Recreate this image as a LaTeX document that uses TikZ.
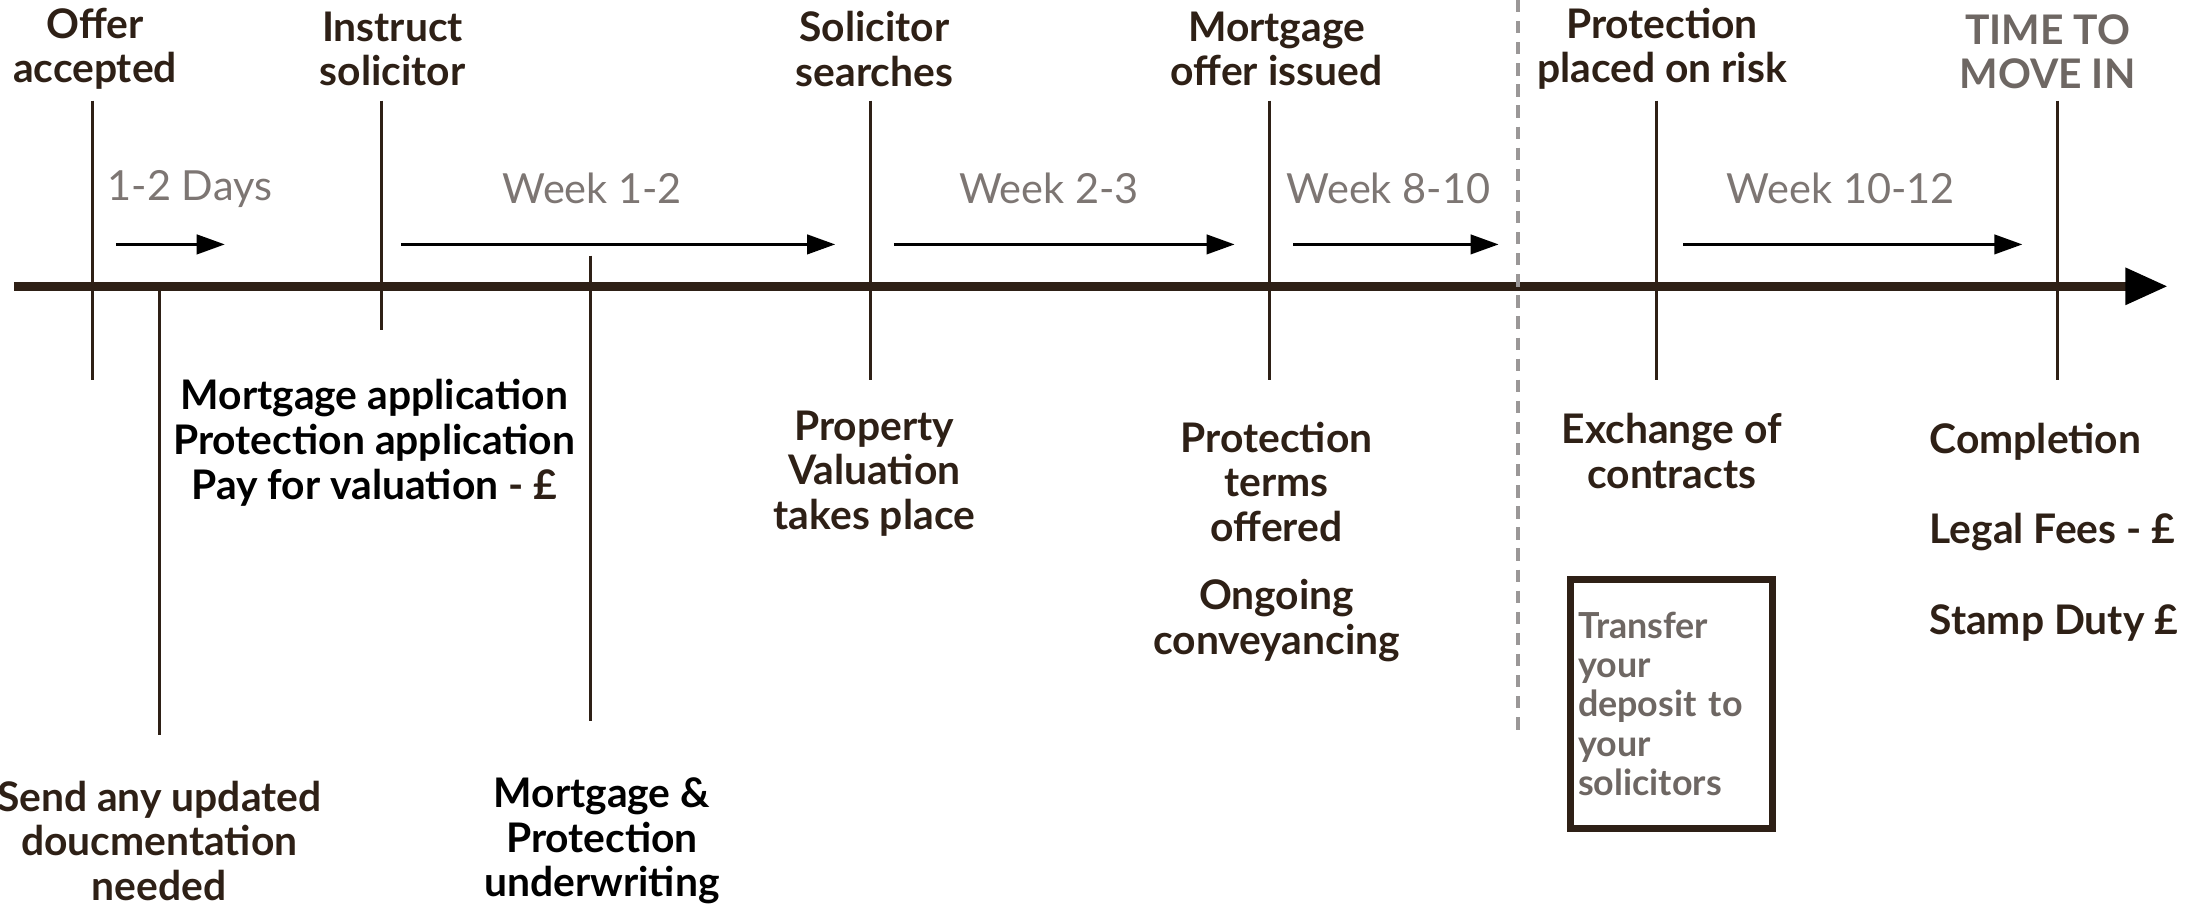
\documentclass[tikz,border=0pt]{standalone}
\usepackage{fontspec}
\setmainfont{Lato}
\usetikzlibrary{arrows.meta}
\definecolor{darkbrown}{HTML}{2E2016}
\definecolor{softgrey}{HTML}{6E6763}
\definecolor{lightgrey}{HTML}{7D7673}
\definecolor{dashgrey}{HTML}{9A9797}

\begin{document}
\begin{tikzpicture}[x=0.013967cm,y=-0.013967cm,
	every node/.style={inner sep=0pt,align=center,text=darkbrown,font=\bfseries\fontsize{11.6}{12.7}\selectfont},
	week/.style={text=lightgrey,font=\fontsize{11.8}{14}\selectfont},
	tick/.style={draw=darkbrown,line width=0.8pt},
	span/.style={draw=black,line width=0.9pt,-{Triangle[length=8pt,width=5.5pt]}},
	axis/.style={draw=darkbrown,line width=2.4pt,-{Triangle[length=12pt,width=10pt,color=black]}},
	depositbox/.style={draw=darkbrown,line width=2pt,text width=1.86cm,inner xsep=0.08cm,
		minimum height=2.49cm,align=left,text=softgrey,font=\bfseries\fontsize{10.2}{11.1}\selectfont}]
	\useasboundingbox (0,0) rectangle (1568,649);
	% time line
	\coordinate (axis-s) at (10,205);
	\coordinate (axis-e) at (1552,205);
	\draw [axis] (axis-s) -- (axis-e);
	% events above the line
	\node (offer) at (68,35) {Offer\\accepted};
	\node (instruct) at (281,35) {Instruct\\solicitor};
	\node (searches) at (626,35) {Solicitor\\searches};
	\node (issued) at (914,35) {Mortgage\\offer issued};
	\node (risk) at (1190,35) {Protection\\placed on risk};
	\node [text=softgrey] (movein) at (1466,37) {TIME TO\\MOVE IN};
	\foreach \n/\x/\b in {offer/66/272, instruct/273/236, searches/623/272,
		issued/909/272, risk/1186/272, movein/1473/272}{
		\coordinate (\n-a) at (\x,72);
		\coordinate (\n-b) at (\x,\b);
		\draw [tick] (\n-a) -- (\n-b);
	}
	% durations
	\node [week] (days) at (136,135) {1-2 Days};
	\node [week] (week1) at (424,135) {Week 1-2};
	\node [week] (week2) at (751,135) {Week 2-3};
	\node [week] (week8) at (994,135) {Week 8-10};
	\node [week] (week10) at (1318,135) {Week 10-12};
	\foreach \i/\a/\b in {1/83/161, 2/287/598, 3/640/884, 4/926/1073, 5/1205/1448}{
		\coordinate (span\i-s) at (\a,175);
		\coordinate (span\i-e) at (\b,175);
		\draw [span] (span\i-s) -- (span\i-e);
	}
	% events below the line
	\node [text=black] (apps) at (268,317) {Mortgage application\\Protection application\\Pay for valuation {\color{darkbrown}- £}};
	\node (docs) at (114,602) {Send any updated\\doucmentation\\needed};
	\node [text=black] (underwriting) at (431,602) {Mortgage \&\\Protection\\underwriting};
	\node (valuation) at (626,339) {Property\\Valuation\\takes place};
	\node (terms) at (914,345) {Protection\\terms\\offered};
	\node (conveyancing) at (914,444.5) {Ongoing\\conveyancing};
	\node (exchange) at (1197,323) {Exchange of\\contracts};
	\node [anchor=west] (completion) at (1381,316) {Completion};
	\node [anchor=west] (fees) at (1381,381) {Legal Fees - £};
	\node [anchor=west] (duty) at (1381,446) {Stamp Duty £};
	\node [depositbox] (deposit) at (1196.5,504) {Transfer\\your\\deposit to\\your\\solicitors};
	\coordinate (docs-a) at (114,205);
	\coordinate (docs-b) at (114,526);
	\draw [tick] (docs-a) -- (docs-b);
	\coordinate (underwriting-a) at (423,183);
	\coordinate (underwriting-b) at (423,516);
	\draw [tick] (underwriting-a) -- (underwriting-b);
	% split
	\coordinate (split-a) at (1087,0);
	\coordinate (split-b) at (1087,526);
	\draw [dashgrey,line width=1.2pt,dash pattern=on 3.5pt off 2.5pt] (split-a) -- (split-b);
\end{tikzpicture}
\end{document}
